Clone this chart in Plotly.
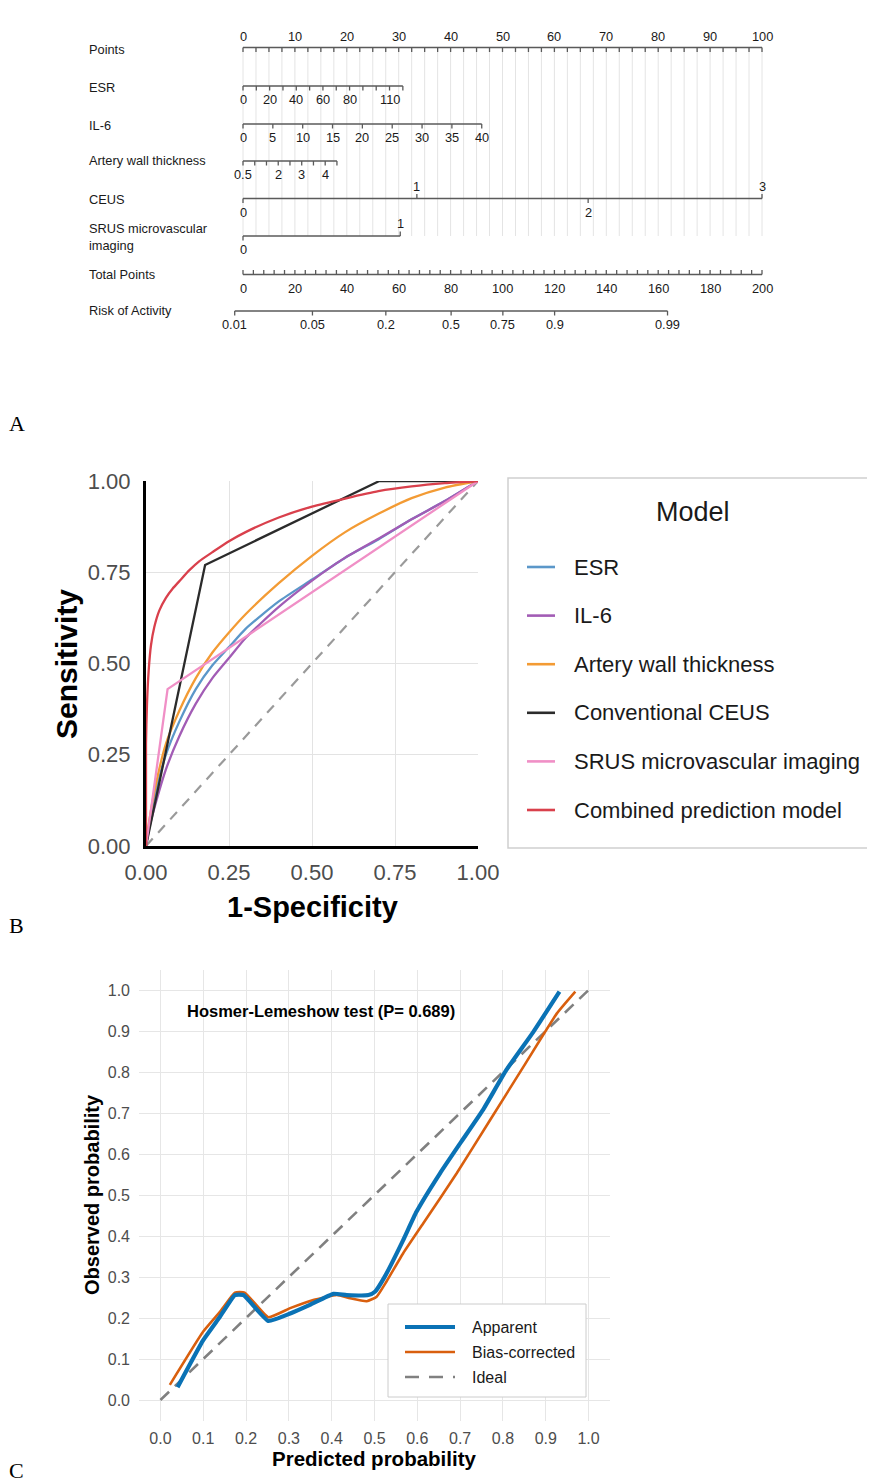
import math
import plotly.graph_objects as go

# page is 875x1483; the html body adds an 8px margin, so the figure is offset by 8px
W, H = 875, 1483
OFF = 8
FW, FH = W - OFF, H - OFF
FONT = "Liberation Sans, Arial, sans-serif"

# ---------------- Panel A: nomogram data ----------------
points_minor = [i * 2.5 for i in range(41)]
points_labels = list(range(0, 101, 10))

esr_ticks = list(range(0, 121, 10))
esr_labels = [0, 20, 40, 60, 80, 110]
esr_max, esr_max_pts = 120, 30.8

il6_ticks = list(range(0, 41, 5))
il6_labels = list(range(0, 41, 5))
il6_max, il6_max_pts = 40, 46.0

awt_ticks = [0.5, 1, 1.5, 2, 2.5, 3, 3.5, 4, 4.5]
awt_labels = [0.5, 2, 3, 4]
awt_min, awt_max, awt_max_pts = 0.5, 4.5, 18.1

ceus_levels = [0, 1, 2, 3]
ceus_points = [0, 33.5, 66.5, 100]
ceus_label_side = ["below", "above", "below", "above"]

srus_levels = [0, 1]
srus_points = [0, 30.3]
srus_label_side = ["below", "above"]

total_minor = list(range(0, 201, 4))
total_labels = list(range(0, 201, 20))

risk_labels = [0.01, 0.05, 0.2, 0.5, 0.75, 0.9, 0.99]
risk_total_at_half = 80.2      # total points where risk = 0.5
risk_logit_per_total = 0.0551  # logit change per total point

row_names = ["Points", "ESR", "IL-6", "Artery wall thickness", "CEUS",
             "SRUS microvascular<br>imaging", "Total Points", "Risk of Activity"]

# ---------------- Panel B: ROC data ----------------
roc_names = ["ESR", "IL-6", "Artery wall thickness", "Conventional CEUS",
             "SRUS microvascular imaging", "Combined prediction model"]
roc_colors = ["#5b97c9", "#a25cb5", "#f39b34", "#2b2b2b", "#f08fc6", "#d9404c"]

esr_fpr = [0, 0.01, 0.03, 0.06, 0.1, 0.15, 0.2, 0.25, 0.3, 0.4, 0.5, 0.6, 0.7, 0.8, 0.9, 1.0]
esr_tpr = [0, 0.06, 0.15, 0.25, 0.34, 0.43, 0.495, 0.545, 0.595, 0.67, 0.73, 0.79, 0.84, 0.895, 0.945, 1.0]
il6_fpr = [0, 0.01, 0.03, 0.06, 0.1, 0.15, 0.2, 0.25, 0.3, 0.4, 0.5, 0.6, 0.7, 0.8, 0.9, 1.0]
il6_tpr = [0, 0.05, 0.12, 0.21, 0.3, 0.39, 0.46, 0.515, 0.57, 0.655, 0.727, 0.79, 0.842, 0.895, 0.945, 1.0]
awt_fpr = [0, 0.01, 0.03, 0.06, 0.1, 0.15, 0.2, 0.25, 0.3, 0.4, 0.5, 0.6, 0.7, 0.8, 0.9, 1.0]
awt_tpr = [0, 0.07, 0.17, 0.28, 0.37, 0.46, 0.53, 0.585, 0.635, 0.72, 0.795, 0.86, 0.91, 0.953, 0.982, 1.0]
ceus_fpr = [0, 0.178, 0.703, 1.0]
ceus_tpr = [0, 0.77, 1.0, 1.0]
srus_fpr = [0, 0.065, 1.0]
srus_tpr = [0, 0.43, 1.0]
comb_fpr = [0, 0.0, 0.003, 0.008, 0.015, 0.025, 0.04, 0.06, 0.08, 0.1, 0.13, 0.16, 0.2, 0.25,
            0.3, 0.4, 0.5, 0.6, 0.7, 0.8, 0.9, 1.0]
comb_tpr = [0, 0.28, 0.39, 0.48, 0.55, 0.6, 0.645, 0.68, 0.705, 0.725, 0.755, 0.78, 0.805, 0.835,
            0.86, 0.9, 0.93, 0.952, 0.972, 0.985, 0.994, 1.0]

# ---------------- Panel C: calibration data ----------------
app_x = [0.040, 0.100, 0.139, 0.174, 0.194, 0.252, 0.303, 0.349, 0.404, 0.435, 0.486, 0.501,
         0.524, 0.567, 0.598, 0.653, 0.700, 0.753, 0.808, 0.871, 0.932]
app_y = [0.031, 0.146, 0.203, 0.256, 0.256, 0.193, 0.211, 0.232, 0.259, 0.256, 0.256, 0.264,
         0.301, 0.390, 0.459, 0.553, 0.626, 0.707, 0.805, 0.898, 0.996]
bc_x = [0.022, 0.100, 0.139, 0.174, 0.197, 0.252, 0.303, 0.357, 0.412, 0.443, 0.482, 0.505,
        0.528, 0.567, 0.614, 0.692, 0.770, 0.848, 0.926, 0.969]
bc_y = [0.037, 0.167, 0.215, 0.262, 0.262, 0.202, 0.224, 0.244, 0.256, 0.248, 0.241, 0.252,
        0.289, 0.358, 0.431, 0.553, 0.683, 0.813, 0.943, 0.996]
ideal = [0, 1]
cal_names = ["Apparent", "Bias-corrected", "Ideal"]
cal_colors = ["#0a72b5", "#d95f0e", "#808080"]
hl_text = "Hosmer-Lemeshow test (P= 0.689)"


def PX(p):
    """page x pixel -> paper fraction"""
    return (p - OFF) / FW


def PY(p):
    """page y pixel -> paper fraction"""
    return 1 - (p - OFF) / FH


fig = go.Figure()
ann = []
shapes = []

# ======== Panel A drawing ========
PX_PER_PT = (762 - 243) / 100.0
nx_range = [(OFF - 243) / PX_PER_PT, (W - 243) / PX_PER_PT]

ROW_Y = {"Points": 47.5, "ESR": 86, "IL-6": 124, "AWT": 161, "CEUS": 198.5,
         "SRUS": 236, "Total": 274.5, "Risk": 311}
LABEL_Y = [49, 87, 125, 160, 199, 237, 274, 310]
TICK = 4.5
LAB_OFF = 13.5
GRAY = "#5a5a5a"


def seg_trace(xs, ys, color, width):
    fig.add_trace(go.Scatter(x=xs, y=ys, mode="lines", xaxis="x", yaxis="y",
                             line=dict(color=color, width=width), hoverinfo="skip",
                             showlegend=False))


def nom_text(xp, yp, txt):
    ann.append(dict(x=xp, y=yp, xref="x", yref="y", text=str(txt), showarrow=False,
                    font=dict(family=FONT, size=12.8, color="#1a1a1a"),
                    xanchor="center", yanchor="middle"))


gx, gy = [], []
for p in points_minor:
    gx += [p, p, None]
    gy += [ROW_Y["Points"], ROW_Y["SRUS"], None]
seg_trace(gx, gy, "#e4e4e4", 1)


def axis_row(pts, y, direction, ticks_pts):
    xs = [min(pts), max(pts), None]
    ys = [y, y, None]
    for tp, d in zip(ticks_pts, direction):
        xs += [tp, tp, None]
        ys += [y, y + d * TICK, None]
    seg_trace(xs, ys, GRAY, 1.3)


axis_row([0, 100], ROW_Y["Points"], [1] * len(points_minor), points_minor)
for v in points_labels:
    nom_text(v, ROW_Y["Points"] - 11.5, v)

esr_pts = [v / esr_max * esr_max_pts for v in esr_ticks]
axis_row(esr_pts, ROW_Y["ESR"], [1] * len(esr_pts), esr_pts)
for v in esr_labels:
    nom_text(v / esr_max * esr_max_pts, ROW_Y["ESR"] + LAB_OFF, v)

il6_pts = [v / il6_max * il6_max_pts for v in il6_ticks]
axis_row(il6_pts, ROW_Y["IL-6"], [1] * len(il6_pts), il6_pts)
for v in il6_labels:
    nom_text(v / il6_max * il6_max_pts, ROW_Y["IL-6"] + LAB_OFF, v)

awt_pts = [(v - awt_min) / (awt_max - awt_min) * awt_max_pts for v in awt_ticks]
axis_row(awt_pts, ROW_Y["AWT"], [1] * len(awt_pts), awt_pts)
for v in awt_labels:
    nom_text((v - awt_min) / (awt_max - awt_min) * awt_max_pts, ROW_Y["AWT"] + LAB_OFF, v)

axis_row(ceus_points, ROW_Y["CEUS"], [1 if s == "below" else -1 for s in ceus_label_side], ceus_points)
for lv, pt, s in zip(ceus_levels, ceus_points, ceus_label_side):
    nom_text(pt, ROW_Y["CEUS"] + (LAB_OFF if s == "below" else -12.5), lv)

axis_row(srus_points, ROW_Y["SRUS"], [1 if s == "below" else -1 for s in srus_label_side], srus_points)
for lv, pt, s in zip(srus_levels, srus_points, srus_label_side):
    nom_text(pt, ROW_Y["SRUS"] + (LAB_OFF if s == "below" else -12.5), lv)

tot_pts = [t / 2.0 for t in total_minor]
axis_row(tot_pts, ROW_Y["Total"], [-1] * len(tot_pts), tot_pts)
for t in total_labels:
    nom_text(t / 2.0, ROW_Y["Total"] + LAB_OFF, t)

risk_pts = [(risk_total_at_half + math.log(p / (1 - p)) / risk_logit_per_total) / 2.0
            for p in risk_labels]
axis_row(risk_pts, ROW_Y["Risk"], [1] * len(risk_pts), risk_pts)
for p, rp in zip(risk_labels, risk_pts):
    nom_text(rp, ROW_Y["Risk"] + LAB_OFF, p)

for name, yy in zip(row_names, LABEL_Y):
    ann.append(dict(x=PX(86.5), y=yy, xref="paper", yref="y", text=name, showarrow=False,
                    align="left", font=dict(family=FONT, size=12.8, color="#1a1a1a"),
                    xanchor="left", yanchor="middle"))

# ======== Panel B: ROC ========
fig.add_trace(go.Scatter(x=[0, 1], y=[0, 1], mode="lines", xaxis="x2", yaxis="y2",
                         line=dict(color="#9a9a9a", width=2.2, dash="10px,8px"),
                         showlegend=False, hoverinfo="skip"))
roc_data = [(esr_fpr, esr_tpr), (il6_fpr, il6_tpr), (awt_fpr, awt_tpr),
            (ceus_fpr, ceus_tpr), (srus_fpr, srus_tpr), (comb_fpr, comb_tpr)]
for name, col, (fx, ty) in zip(roc_names, roc_colors, roc_data):
    smooth = name not in ("Conventional CEUS", "SRUS microvascular imaging")
    fig.add_trace(go.Scatter(x=fx, y=ty, mode="lines", name=name, xaxis="x2", yaxis="y2",
                             line=dict(color=col, width=2.3,
                                       shape="spline" if smooth else "linear",
                                       smoothing=0.6),
                             showlegend=False))

# ROC legend (drawn box, keys and labels)
shapes.append(dict(type="rect", xref="paper", yref="paper", x0=PX(508), x1=PX(890),
                   y0=PY(848), y1=PY(478), line=dict(color="#cfcfcf", width=1.5),
                   fillcolor="white", layer="above"))
ann.append(dict(x=PX(693), y=PY(512), xref="paper", yref="paper", text="Model",
                showarrow=False, font=dict(family=FONT, size=27, color="#1a1a1a"),
                xanchor="center", yanchor="middle"))
for i, (name, col) in enumerate(zip(roc_names, roc_colors)):
    yy = 567 + i * 48.6
    shapes.append(dict(type="line", xref="paper", yref="paper", x0=PX(527), x1=PX(555),
                       y0=PY(yy), y1=PY(yy), line=dict(color=col, width=2.6), layer="above"))
    ann.append(dict(x=PX(571.5), y=PY(yy), xref="paper", yref="paper", text=name,
                    showarrow=False, font=dict(family=FONT, size=22, color="#1a1a1a"),
                    xanchor="left", yanchor="middle"))

# ======== Panel C: calibration ========
fig.add_trace(go.Scatter(x=ideal, y=ideal, mode="lines", name=cal_names[2], xaxis="x3", yaxis="y3",
                         line=dict(color=cal_colors[2], width=2.6, dash="12px,8px"),
                         showlegend=False))
fig.add_trace(go.Scatter(x=bc_x, y=bc_y, mode="lines", name=cal_names[1], xaxis="x3", yaxis="y3",
                         line=dict(color=cal_colors[1], width=2.6, shape="spline", smoothing=0.4),
                         showlegend=False))
fig.add_trace(go.Scatter(x=app_x, y=app_y, mode="lines", name=cal_names[0], xaxis="x3", yaxis="y3",
                         line=dict(color=cal_colors[0], width=4.2, shape="spline", smoothing=0.4),
                         showlegend=False))

shapes.append(dict(type="rect", xref="paper", yref="paper", x0=PX(388), x1=PX(586),
                   y0=PY(1397), y1=PY(1304), line=dict(color="#cccccc", width=1),
                   fillcolor="white", layer="above"))
cal_key_w = [4.2, 2.6, 2.6]
cal_key_dash = ["solid", "solid", "14px,10px"]
for i, (name, col) in enumerate(zip(cal_names, cal_colors)):
    yy = 1327 + i * 25
    shapes.append(dict(type="line", xref="paper", yref="paper", x0=PX(405), x1=PX(455),
                       y0=PY(yy), y1=PY(yy),
                       line=dict(color=col, width=cal_key_w[i], dash=cal_key_dash[i]),
                       layer="above"))
    ann.append(dict(x=PX(469.5), y=PY(yy), xref="paper", yref="paper", text=name,
                    showarrow=False, font=dict(family=FONT, size=16, color="#1a1a1a"),
                    xanchor="left", yanchor="middle"))

# axis titles and texts
ann += [
    dict(x=PX(66), y=PY(664), xref="paper", yref="paper", text="<b>Sensitivity</b>",
         textangle=-90, showarrow=False, font=dict(family=FONT, size=30, color="black"),
         xanchor="center", yanchor="middle"),
    dict(x=PX(312), y=PY(907), xref="paper", yref="paper", text="<b>1-Specificity</b>",
         showarrow=False, font=dict(family=FONT, size=29, color="black"),
         xanchor="center", yanchor="middle"),
    dict(x=PX(374), y=PY(1458), xref="paper", yref="paper", text="<b>Predicted probability</b>",
         showarrow=False, font=dict(family=FONT, size=20.5, color="black"),
         xanchor="center", yanchor="middle"),
    dict(x=PX(92), y=PY(1195), xref="paper", yref="paper", text="<b>Observed probability</b>",
         textangle=-90, showarrow=False, font=dict(family=FONT, size=20, color="black"),
         xanchor="center", yanchor="middle"),
    dict(x=0.375, y=0.949, xref="x3", yref="y3", text="<b>" + hl_text + "</b>",
         showarrow=False, font=dict(family=FONT, size=16.5, color="black"),
         xanchor="center", yanchor="middle"),
]
for letter, lx, ly in [("A", 17, 423), ("B", 16, 925), ("C", 16, 1470)]:
    ann.append(dict(x=PX(lx), y=PY(ly), xref="paper", yref="paper", text=letter,
                    showarrow=False, font=dict(family="Liberation Serif, Times New Roman, serif",
                                               size=22, color="black"),
                    xanchor="center", yanchor="middle"))

roc_ticks = [0, 0.25, 0.5, 0.75, 1.0]
roc_ticktext = ["0.00", "0.25", "0.50", "0.75", "1.00"]
cal_ticks = [i / 10 for i in range(11)]

fig.update_layout(
    width=FW, height=FH, margin=dict(l=0, r=0, t=0, b=0, pad=0, autoexpand=False),
    paper_bgcolor="white", plot_bgcolor="rgba(0,0,0,0)",
    font=dict(family=FONT),
    showlegend=False,
    xaxis=dict(domain=[0, 1], range=nx_range, visible=False, fixedrange=True),
    yaxis=dict(domain=[0, 1], range=[H, OFF], visible=False, fixedrange=True),
    xaxis2=dict(domain=[PX(146), PX(478)], range=[0, 1], anchor="y2",
                tickvals=roc_ticks, ticktext=roc_ticktext, showgrid=True, gridcolor="#e3e3e3",
                gridwidth=1.3, zeroline=False, showline=True, linecolor="black", linewidth=3,
                ticks="", ticklabelstandoff=5,
                tickfont=dict(family=FONT, size=22, color="#4d4d4d")),
    yaxis2=dict(domain=[PY(846), PY(481)], range=[0, 1], anchor="x2",
                tickvals=roc_ticks, ticktext=roc_ticktext, showgrid=True, gridcolor="#e3e3e3",
                gridwidth=1.3, zeroline=False, showline=True, linecolor="black", linewidth=3,
                ticks="", ticklabelstandoff=8,
                tickfont=dict(family=FONT, size=22, color="#4d4d4d")),
    xaxis3=dict(domain=[PX(139), PX(610)], range=[-0.05, 1.05], anchor="y3",
                tickvals=cal_ticks, tickformat=".1f", showgrid=True, gridcolor="#e6e6e6",
                gridwidth=1.2, zeroline=False, showline=False, ticks="", ticklabelstandoff=6,
                tickfont=dict(family=FONT, size=16, color="#4d4d4d")),
    yaxis3=dict(domain=[PY(1420.5), PY(969.5)], range=[-0.05, 1.05], anchor="x3",
                tickvals=cal_ticks, tickformat=".1f", showgrid=True, gridcolor="#e6e6e6",
                gridwidth=1.2, zeroline=False, showline=False, ticks="", ticklabelstandoff=8,
                tickfont=dict(family=FONT, size=16, color="#4d4d4d")),
    annotations=ann,
    shapes=shapes,
)

fig.write_html("out.html")
